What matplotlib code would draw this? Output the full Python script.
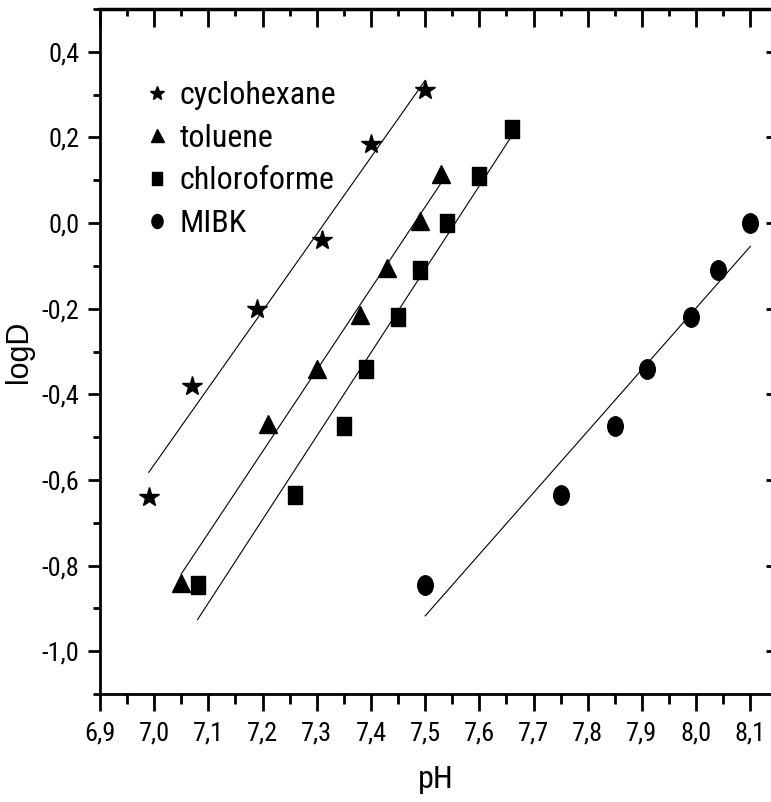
import numpy as np
import matplotlib
matplotlib.use("Agg")
from matplotlib import pyplot as plt
from matplotlib.path import Path
from matplotlib.transforms import Affine2D
from matplotlib.ticker import MultipleLocator, FuncFormatter

plt.rcParams['font.family'] = ['Roboto Condensed', 'DejaVu Sans']

# data
ph_cyclo = [6.99, 7.07, 7.19, 7.31, 7.40, 7.50]
logd_cyclo = [-0.64, -0.38, -0.20, -0.04, 0.185, 0.31]

ph_tol = [7.05, 7.21, 7.30, 7.38, 7.43, 7.49, 7.53]
logd_tol = [-0.84, -0.47, -0.34, -0.215, -0.105, 0.005, 0.115]

ph_chloro = [7.08, 7.26, 7.35, 7.39, 7.45, 7.49, 7.54, 7.60, 7.66]
logd_chloro = [-0.845, -0.635, -0.475, -0.34, -0.22, -0.11, 0.0, 0.11, 0.22]

ph_mibk = [7.50, 7.75, 7.85, 7.91, 7.99, 8.04, 8.10]
logd_mibk = [-0.845, -0.635, -0.475, -0.34, -0.22, -0.11, 0.0]

# squeezed square and circle, like the scanned figure
tall_square = Path([(-0.75, -1), (0.75, -1), (0.75, 1), (-0.75, 1), (-0.75, -1)],
                   [Path.MOVETO, Path.LINETO, Path.LINETO, Path.LINETO, Path.CLOSEPOLY])
tall_circle = Path.unit_circle().transformed(Affine2D().scale(0.8, 1.0))

series = [("cyclohexane", ph_cyclo, logd_cyclo, "*", 15),
          ("toluene", ph_tol, logd_tol, "^", 13),
          ("chloroforme", ph_chloro, logd_chloro, tall_square, 13),
          ("MIBK", ph_mibk, logd_mibk, tall_circle, 14)]

fig = plt.figure(figsize=(7.71, 8.02), dpi=100)
ax = fig.add_axes([100/771, 108/802, 671.5/771, 685/802])

for name, x, y, m, ms in series:
    ax.plot(x, y, ls="none", marker=m, ms=ms, color="black", label=name)
    k, b = np.polyfit(x, y, 1)
    xx = np.array([min(x), max(x)])
    ax.plot(xx, k*xx + b, color="black", lw=0.8)

ax.set_xlim(6.9, 8.139)
ax.set_ylim(-1.1, 0.5)

comma = FuncFormatter(lambda v, p: f"{v:.1f}".replace(".", ","))
ax.xaxis.set_major_locator(MultipleLocator(0.1))
ax.xaxis.set_minor_locator(MultipleLocator(0.05))
ax.yaxis.set_major_locator(MultipleLocator(0.2))
ax.yaxis.set_minor_locator(MultipleLocator(0.1))
ax.xaxis.set_major_formatter(comma)
ax.yaxis.set_major_formatter(comma)
ax.tick_params(axis="x", which="major", direction="out", length=12, width=2, labelsize=19, pad=8)
ax.tick_params(axis="x", which="minor", direction="out", length=7, width=2)
ax.tick_params(axis="y", which="major", direction="out", length=9, width=2, labelsize=19, pad=6)
ax.tick_params(axis="y", which="minor", direction="out", length=5, width=2)

for s in ax.spines.values():
    s.set_linewidth(2)

top = ax.secondary_xaxis("top")
top.xaxis.set_major_locator(MultipleLocator(0.1))
top.xaxis.set_minor_locator(MultipleLocator(0.05))
top.tick_params(which="major", direction="in", length=13, width=2, labeltop=False)
top.tick_params(which="minor", direction="in", length=5, width=2)
top.spines["top"].set_linewidth(2.5)

right = ax.secondary_yaxis("right")
right.yaxis.set_major_locator(MultipleLocator(0.2))
right.yaxis.set_minor_locator(MultipleLocator(0.1))
right.tick_params(which="major", direction="in", length=4, width=2, labelright=False)
right.tick_params(which="minor", direction="in", length=0)

ax.set_xlabel("pH", fontsize=23, labelpad=14)
ax.set_ylabel("logD", fontsize=22, labelpad=5, family=['Liberation Sans', 'DejaVu Sans'])

ax.legend(loc="upper left", bbox_to_anchor=(0.062, 0.895), frameon=False, fontsize=23,
          borderpad=0, borderaxespad=0, handlelength=0.95, handletextpad=0.25,
          labelspacing=0.43, markerscale=0.72)

fig.savefig("out.png", dpi=100)
